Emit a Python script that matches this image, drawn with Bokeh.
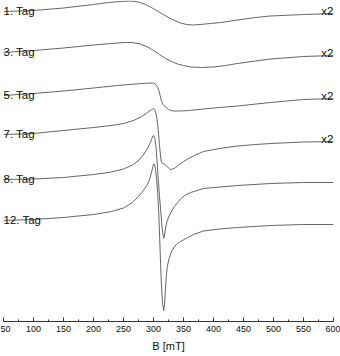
from bokeh.plotting import figure
from bokeh.models import Range1d, FixedTicker, ColumnDataSource
from bokeh.core.properties import value
from bokeh.embed import file_html
from bokeh.resources import INLINE

# Labels of the stacked EPR spectra (top to bottom)
tag_labels = ["1. Tag", "3. Tag", "5. Tag", "7. Tag", "8. Tag", "12. Tag"]
scale_labels = ["x2", "x2", "x2", "x2", "", ""]
# vertical offset of each spectrum (arbitrary units)
offsets = [310, 269, 226, 187, 142, 101]

# Magnetic field B [mT] and signal (arbitrary units) for each spectrum
b_day1 = [50, 100, 150, 200, 225, 245, 262, 275, 285, 295, 305, 315, 325, 335, 345, 355, 365, 378, 395, 412, 440, 470, 495, 550, 600]
s_day1 = [0, 1, 3.5, 7, 9, 10, 10.5, 9.5, 7.5, 4.5, 1, -2.5, -6, -9, -11.5, -13, -13.5, -13, -12, -11, -8.5, -6, -4.5, -3, -2]

b_day3 = [50, 100, 150, 200, 230, 250, 265, 278, 290, 300, 310, 320, 330, 340, 350, 362, 380, 400, 420, 440, 470, 495, 550, 600]
s_day3 = [0, 2, 4.5, 7.5, 9, 10, 10, 8.5, 5.5, 2, -2, -6, -9, -11.5, -13, -14.5, -15, -14.5, -13, -11, -8.5, -6.5, -4, -3]

b_day5 = [50, 100, 150, 200, 240, 270, 290, 298, 302, 305, 307, 309, 311, 313, 316, 320, 325, 333, 345, 360, 383, 410, 440, 495, 550, 600]
s_day5 = [0, 2, 4.5, 7.5, 10, 11.5, 12.3, 12.5, 12, 10, 8, 5, 0, -5, -9, -11.5, -14, -15.5, -15.5, -15, -13.5, -12, -10.5, -7, -4, -3]

b_day7 = [50, 100, 150, 200, 230, 250, 267, 280, 290, 297, 300, 302, 304, 306, 308, 310, 312, 313, 315, 318, 321, 325, 328, 332, 337, 342, 350, 360, 370, 383, 410, 440, 470, 495, 550, 600]
s_day7 = [0, 1, 4, 7, 9, 11, 14, 18, 22, 25, 26, 25, 21, 15, 4, -11, -23, -27, -29, -29.5, -31, -33.5, -35, -34.5, -33, -30.5, -27, -23.5, -20.5, -17, -14, -11.5, -10, -9, -7.5, -7]

b_day8 = [50, 100, 150, 200, 230, 250, 265, 275, 283, 290, 294, 297, 299, 300.5, 302, 304, 306, 308, 310, 312, 314, 316, 317, 318, 319.5, 321, 323, 326, 330, 335, 340, 345, 352, 362, 383, 410, 440, 495, 550, 600]
s_day8 = [0, 0.5, 2, 5, 7.5, 10.5, 14.5, 19, 24.5, 31, 36, 40.5, 43.5, 44, 42, 34, 18, -1, -17, -31, -46, -56, -59, -57, -51, -46, -41, -36.5, -31.5, -27, -23, -19.5, -16, -13, -9, -7.5, -6, -4, -3, -3]

b_day12 = [50, 100, 150, 200, 230, 250, 265, 275, 283, 290, 294, 297, 299, 300.5, 302, 303.5, 305, 307, 309, 311, 313, 315, 317, 318.5, 320, 321.5, 323, 326, 330, 335, 340, 345, 357, 367, 383, 410, 440, 495, 550, 600]
s_day12 = [0, 1, 3, 6, 9, 12.5, 18, 24, 30, 36, 42, 49, 54, 56.5, 56, 50, 42, 28, 5, -30, -62, -82, -90, -84, -68, -55, -46, -38, -31, -26, -23, -21, -17, -14, -10.5, -8.5, -7, -5, -4, -4]

x_ticks = [50, 100, 150, 200, 250, 300, 350, 400, 450, 500, 550, 600]
x_minor_ticks = [75, 125, 175, 225, 275, 325, 375, 425, 475, 525, 575]

spectra = [(b_day1, s_day1), (b_day3, s_day3), (b_day5, s_day5),
           (b_day7, s_day7), (b_day8, s_day8), (b_day12, s_day12)]

FONT = "'Liberation Sans Narrow', 'Liberation Sans', Arial, sans-serif"
LINE = "#555555"

p = figure(width=340, height=356, output_backend="svg", toolbar_location=None,
           x_range=Range1d(50, 600), y_range=Range1d(0, 321),
           y_axis_location=None, min_border_left=3, min_border_right=7,
           min_border_top=0, min_border_bottom=35)
p.outline_line_color = None
p.xgrid.visible = False
p.ygrid.visible = False
p.background_fill_color = "white"
p.border_fill_color = "white"

for (bvals, svals), off in zip(spectra, offsets):
    src = ColumnDataSource(dict(b=bvals, y=[off + s for s in svals]))
    p.line("b", "y", source=src, line_color=LINE, line_width=0.9,
           line_join="round")

# tag labels on the left, sitting on each baseline
tag_src = ColumnDataSource(dict(
    x=[b[0] for b, s in spectra],
    y=[off + s[0] for (b, s), off in zip(spectra, offsets)],
    t=tag_labels))
p.text("x", "y", text="t", source=tag_src, text_font=value("Liberation Sans"),
       text_font_size="11.5px", text_color="#111111", text_align="left",
       text_baseline="alphabetic", y_offset=-1)

# scale factor labels on the right
sc_src = ColumnDataSource(dict(
    x=[b[-1] for b, s in spectra],
    y=[off + s[-1] for (b, s), off in zip(spectra, offsets)],
    t=scale_labels))
p.text("x", "y", text="t", source=sc_src, text_font=value("Liberation Sans"),
       text_font_size="11.5px", text_color="#111111", text_align="right",
       text_baseline="alphabetic", y_offset=-3)

ax = p.xaxis[0]
ax.ticker = FixedTicker(ticks=x_ticks, minor_ticks=x_minor_ticks)
ax.axis_label = "B [mT]"
ax.axis_label_text_font = "Liberation Sans"
ax.axis_label_text_font_style = "normal"
ax.axis_label_text_font_size = "11px"
ax.axis_label_text_color = "#111111"
ax.axis_label_standoff = 5
ax.major_label_text_font = FONT
ax.major_label_text_font_size = "9px"
ax.major_label_text_color = "#111111"
ax.major_label_standoff = 4
ax.axis_line_color = "#333333"
ax.axis_line_width = 1
ax.major_tick_in = 4
ax.major_tick_out = 0
ax.minor_tick_in = 2
ax.minor_tick_out = 0
ax.major_tick_line_color = "#333333"
ax.minor_tick_line_color = "#333333"

open("out.html", "w").write(file_html(p, INLINE))
